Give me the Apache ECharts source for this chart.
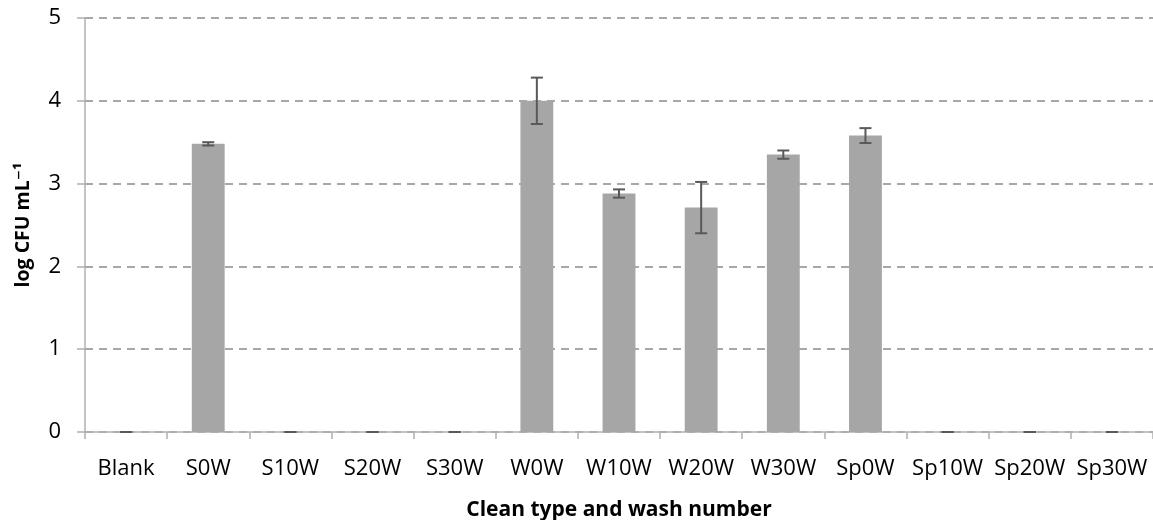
<!DOCTYPE html>
<html>
<head>
<meta charset="utf-8">
<style>
  html, body { margin: 0; padding: 0; background: #ffffff; }
  #chart { width: 1153px; height: 520px; }
</style>
<script src="https://cdn.jsdelivr.net/npm/echarts@6/dist/echarts.min.js"></script>
</head>
<body>
<div id="chart"></div>
<script>
// Clean type / wash number categories
const categories = ['Blank', 'S0W', 'S10W', 'S20W', 'S30W', 'W0W', 'W10W', 'W20W', 'W30W', 'Sp0W', 'Sp10W', 'Sp20W', 'Sp30W'];
// Mean log CFU per mL
const meanValues = [0, 3.48, 0, 0, 0, 4.00, 2.88, 2.71, 3.35, 3.58, 0, 0, 0];
// Error (± half-range) for each mean
const errorValues = [0, 0.02, 0, 0, 0, 0.28, 0.05, 0.31, 0.05, 0.09, 0, 0, 0];
const yTicks = [0, 1, 2, 3, 4, 5];

const FONT = '"Open Sans", "DejaVu Sans", sans-serif';

const errorData = categories.map((c, i) => [i, meanValues[i] - errorValues[i], meanValues[i] + errorValues[i]]);

const chart = echarts.init(document.getElementById('chart'), null, { renderer: 'canvas' });
chart.setOption({
  animation: false,
  backgroundColor: '#ffffff',
  grid: { left: 85, right: 0, top: 18, bottom: 88, containLabel: false, outerBoundsMode: 'none' },
  xAxis: {
    type: 'category',
    data: categories,
    boundaryGap: true,
    name: 'Clean type and wash number',
    nameLocation: 'middle',
    nameGap: 68,
    nameTextStyle: { fontFamily: FONT, fontSize: 21, fontWeight: 'bold', color: '#000' },
    axisLine: { lineStyle: { color: '#b0b0b0', width: 1.5 } },
    axisTick: { show: true, alignWithLabel: false, length: 7, lineStyle: { color: '#b0b0b0', width: 1.5 } },
    axisLabel: { fontFamily: FONT, fontSize: 22, color: '#000', margin: 26, interval: 0 }
  },
  yAxis: {
    type: 'value',
    min: yTicks[0],
    max: yTicks[yTicks.length - 1],
    interval: 1,
    name: 'log CFU mL\u207B\u00B9',
    nameLocation: 'middle',
    nameGap: 52,
    nameTextStyle: { fontFamily: FONT, fontSize: 19.5, fontWeight: 'bold', color: '#000' },
    axisLine: { show: true, lineStyle: { color: '#b0b0b0', width: 1.5 } },
    axisTick: { show: true, length: 8, lineStyle: { color: '#b0b0b0', width: 1.5 } },
    axisLabel: { fontFamily: FONT, fontSize: 22, color: '#000', margin: 24 },
    splitLine: { show: true, lineStyle: { color: '#8c8c8c', width: 1.5, type: [8, 6] } }
  },
  series: [
    {
      type: 'bar',
      data: meanValues,
      barWidth: '40%',
      itemStyle: { color: '#a6a6a6' },
      z: 2
    },
    {
      type: 'custom',
      data: errorData,
      z: 5,
      renderItem: function (params, api) {
        const x = api.value(0);
        const lo = api.coord([x, api.value(1)]);
        const hi = api.coord([x, api.value(2)]);
        const half = 6;
        const style = { stroke: '#595959', lineWidth: 2 };
        return {
          type: 'group',
          children: [
            { type: 'line', shape: { x1: lo[0], y1: lo[1], x2: hi[0], y2: hi[1] }, style: style },
            { type: 'line', shape: { x1: lo[0] - half, y1: lo[1], x2: lo[0] + half, y2: lo[1] }, style: style },
            { type: 'line', shape: { x1: hi[0] - half, y1: hi[1], x2: hi[0] + half, y2: hi[1] }, style: style }
          ]
        };
      }
    }
  ]
});
</script>
</body>
</html>
